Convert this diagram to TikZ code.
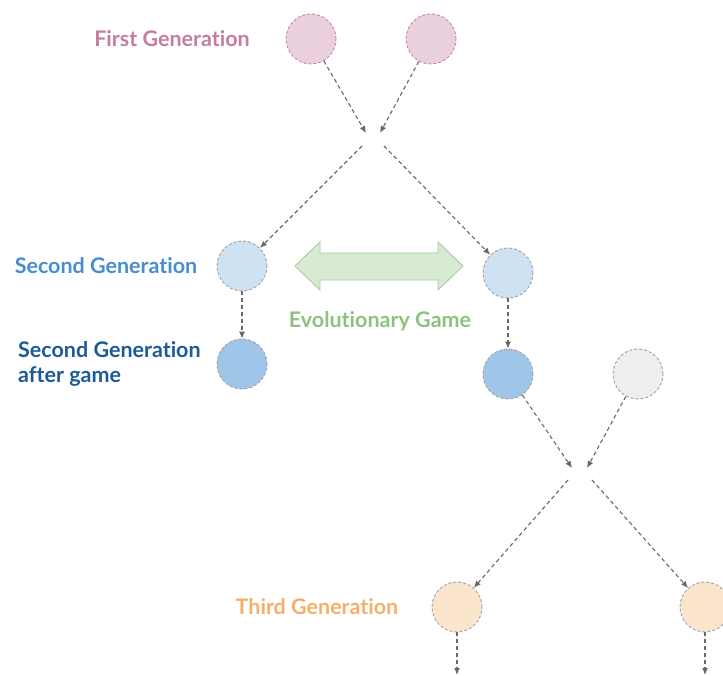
\documentclass[tikz,border=0pt]{standalone}
\usepackage{fontspec}
\setmainfont{Lato}[Ligatures=NoCommon]
\usetikzlibrary{arrows.meta}
\definecolor{pinkfill}{HTML}{EACFDC}
\definecolor{pinkline}{HTML}{C983A6}
\definecolor{pinktext}{HTML}{C47CA2}
\definecolor{lbfill}{HTML}{CFE2F3}
\definecolor{dbfill}{HTML}{9FC5E8}
\definecolor{greyfill}{HTML}{EEEEEE}
\definecolor{orfill}{HTML}{FCE5CD}
\definecolor{circline}{HTML}{A0A0A0}
\definecolor{lbtext}{HTML}{4A8DCF}
\definecolor{dbtext}{HTML}{1D5A98}
\definecolor{grtext}{HTML}{8DC27E}
\definecolor{grfill}{HTML}{D9EAD3}
\definecolor{grline}{HTML}{A8CC9C}
\definecolor{ortext}{HTML}{F4B06A}
\definecolor{arrline}{HTML}{686868}
\tikzset{
  person/.style={circle, minimum size=50pt, inner sep=0pt, draw=circline, line width=0.9pt, dash pattern=on 3pt off 2pt},
  link/.style={draw=arrline, line width=1.1pt, dash pattern=on 4pt off 3pt, -{Latex[length=7pt,width=6pt]}},
  lbl/.style={font=\bfseries\fontsize{21.5}{25}\selectfont, inner sep=0pt},
}
\begin{document}
\begin{tikzpicture}[x=1pt,y=-1pt]
\useasboundingbox (0,0) rectangle (723,676);
% first generation
\node[person, fill=pinkfill, draw=pinkline] (f1) at (311,39) {};
\node[person, fill=pinkfill, draw=pinkline] (f2) at (431,39) {};
\node[lbl, text=pinktext] (tf) at (172,39) {First Generation};
% crossing points
\coordinate (x1a) at (366,133);
\coordinate (x1b) at (380,133);
\coordinate (x1c) at (362,146);
\coordinate (x1d) at (384,146);
\draw[link] (f1) -- (x1a);
\draw[link] (f2) -- (x1b);
% second generation
\node[person, fill=lbfill] (s1) at (242,266) {};
\node[person, fill=lbfill] (s2) at (508,273) {};
\node[lbl, text=lbtext] (ts) at (106,266) {Second Generation};
\draw[link] (x1c) -- (s1);
\draw[link] (x1d) -- (s2);
% evolutionary game arrow
\draw[draw=grline, fill=grfill, line width=0.9pt]
  (295,266) -- (320,242) -- (320,253) -- (438,253) -- (438,242) -- (463,266)
  -- (438,290) -- (438,280) -- (320,280) -- (320,290) -- cycle;
\node[lbl, text=grtext] (tg) at (380,321) {Evolutionary Game};
% after game
\node[person, fill=dbfill] (a1) at (242,364) {};
\node[person, fill=dbfill] (a2) at (508,374) {};
\node[lbl, text=dbtext, align=left, anchor=west] (ta) at (18,364) {Second Generation\\after game};
\draw[link] (s1) -- (a1);
\draw[link] (s2) -- (a2);
% grey partner
\node[person, fill=greyfill] (g) at (638,374) {};
\coordinate (x2a) at (572,468);
\coordinate (x2b) at (587,468);
\coordinate (x2c) at (568,480);
\coordinate (x2d) at (592,480);
\draw[link] (a2) -- (x2a);
\draw[link] (g) -- (x2b);
% third generation
\node[person, fill=orfill] (t1) at (457,607) {};
\node[person, fill=orfill] (t2) at (705,607) {};
\node[lbl, text=ortext] (tt) at (317,607) {Third Generation};
\draw[link] (x2c) -- (t1);
\draw[link] (x2d) -- (t2);
\coordinate (e1) at (457,675);
\coordinate (e2) at (705,675);
\draw[link] (t1) -- (e1);
\draw[link] (t2) -- (e2);
\end{tikzpicture}
\end{document}
